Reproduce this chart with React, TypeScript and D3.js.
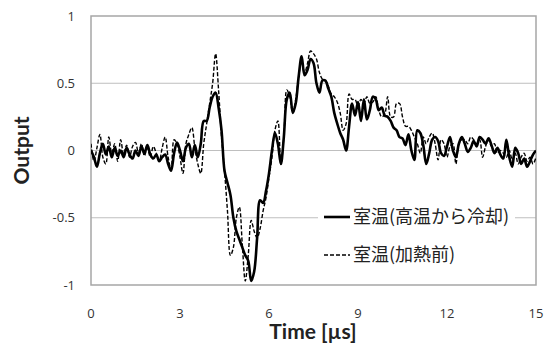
import React, { useEffect, useRef } from "react";
import * as d3 from "d3";

const xTicks = [0, 3, 6, 9, 12, 15];
const yTicks = [-1, -0.5, 0, 0.5, 1];
const yTickLabels = ["-1", "-0.5", "0", "0.5", "1"];
const timeStep = 0.1;

const cooled = [
  0.0, -0.05, -0.12, -0.02, 0.05, -0.03, 0.03, -0.05, 0.02, -0.04,
  0.0, -0.05, 0.02, -0.03, -0.06, 0.0, -0.04, 0.03, -0.02, 0.04,
  -0.03, -0.06, -0.03, -0.08, -0.05, -0.03, -0.1, -0.15, -0.02, 0.06,
  0.0, -0.08, 0.02, 0.05, -0.05, 0.04, -0.05, 0.05, 0.22, 0.22,
  0.32, 0.4, 0.43, 0.32, 0.15, -0.15, -0.24, -0.33, -0.5, -0.6,
  -0.66, -0.72, -0.78, -0.82, -0.97, -0.9, -0.65, -0.37, -0.39, -0.3,
  -0.17, 0.0, 0.13, 0.05, -0.1, 0.1, 0.38, 0.43, 0.28, 0.35,
  0.55, 0.7, 0.56, 0.6, 0.68, 0.65, 0.5, 0.43, 0.52, 0.52,
  0.46, 0.4, 0.28, 0.2, 0.13, 0.08, 0.0, 0.18, 0.35, 0.26,
  0.36, 0.22, 0.38, 0.23, 0.3, 0.4, 0.38, 0.3, 0.32, 0.26,
  0.25, 0.22, 0.17, 0.15, 0.1, 0.09, 0.04, 0.12, 0.0, -0.07,
  0.15, 0.13, 0.04, -0.1, -0.02, 0.08, 0.1, 0.07, -0.02, -0.04,
  0.03, 0.1, 0.0, -0.05, 0.05, 0.1, 0.05, -0.01, 0.02, 0.07,
  0.03, 0.1, 0.08, 0.05, 0.09, 0.04, -0.02, 0.02, -0.03, -0.06,
  0.08, -0.05, -0.12, 0.02, -0.02, -0.1, -0.06, -0.12, -0.08, -0.03,
  0.0,
];

const beforeHeating = [
  0.05, -0.08, 0.02, 0.12, -0.05, -0.1, 0.1, -0.02, 0.05, -0.08,
  0.08, -0.03, 0.04, -0.05, 0.03, 0.06, -0.02, 0.05, -0.04, 0.02,
  -0.05, 0.03, -0.02, -0.08, 0.02, 0.1, -0.05, -0.14, 0.08, 0.05,
  -0.05, -0.17, 0.05, 0.12, 0.17, 0.02, -0.1, -0.17, 0.05, 0.2,
  0.35, 0.5, 0.72, 0.45, 0.1, -0.15, -0.45, -0.78, -0.72, -0.5,
  -0.42, -0.7, -0.97, -0.78, -0.52, -0.6, -0.65, -0.58, -0.45, -0.35,
  -0.2, -0.05, 0.15, 0.22, -0.1, 0.1, 0.45, 0.4, 0.28, 0.38,
  0.55, 0.66, 0.58, 0.65, 0.74, 0.72, 0.68, 0.58, 0.53, 0.52,
  0.48, 0.42, 0.4, 0.36, 0.28, 0.15, 0.2, 0.42, 0.38, 0.38,
  0.33, 0.38, 0.35, 0.4, 0.35, 0.36, 0.4, 0.3, 0.25, 0.27,
  0.4, 0.25, 0.25, 0.35, 0.35, 0.25, 0.18, 0.18, 0.15, 0.1,
  0.05, -0.02, 0.1, 0.05, 0.1, 0.13, 0.05, -0.07, 0.08, 0.05,
  -0.05, 0.03, 0.05, -0.1, 0.05, 0.08, 0.08, 0.05, 0.1, 0.08,
  0.05, 0.08, -0.05, 0.03, 0.08, 0.03, 0.05, -0.02, 0.0, -0.02,
  -0.05, 0.0, -0.07, -0.02, -0.1, -0.05, -0.02, -0.08, -0.05, -0.1,
  -0.05,
];

const seriesNames = ["室温(高温から冷却)", "室温(加熱前)"];

const W = 550;
const H = 345;
const left = 91;
const right = 536;
const top = 16;
const bottom = 285;
const font = "'Open Sans', 'Noto Sans', sans-serif";
const titleFont = "Lato, 'Open Sans', sans-serif";
const cjkFont = "'Noto Sans CJK JP', 'Open Sans', sans-serif";

export default function App() {
  const ref = useRef<SVGSVGElement>(null);
  useEffect(() => {
    const svg = d3.select(ref.current);
    svg.selectAll("*").remove();
    const x = d3.scaleLinear().domain([0, 15]).range([left, right]);
    const y = d3.scaleLinear().domain([-1, 1]).range([bottom, top]);

    svg.append("rect").attr("width", W).attr("height", H).attr("fill", "#fff");

    svg
      .append("g")
      .selectAll("line")
      .data(yTicks.filter((v) => v !== -1 && v !== 1))
      .join("line")
      .attr("x1", left)
      .attr("x2", right)
      .attr("y1", (d) => y(d))
      .attr("y2", (d) => y(d))
      .attr("stroke", "#bfbfbf")
      .attr("stroke-width", 1);

    svg
      .append("rect")
      .attr("x", left)
      .attr("y", top)
      .attr("width", right - left)
      .attr("height", bottom - top)
      .attr("fill", "none")
      .attr("stroke", "#a6a6a6")
      .attr("stroke-width", 1.5);

    svg
      .append("g")
      .selectAll("text")
      .data(yTicks)
      .join("text")
      .attr("x", 75)
      .attr("y", (d) => y(d))
      .attr("dy", "0.35em")
      .attr("text-anchor", "end")
      .attr("font-family", font)
      .attr("font-size", 13)
      .attr("fill", "#333")
      .text((d, i) => yTickLabels[i]);

    svg
      .append("g")
      .selectAll("text")
      .data(xTicks)
      .join("text")
      .attr("x", (d) => x(d))
      .attr("y", 313)
      .attr("dy", "0.35em")
      .attr("text-anchor", "middle")
      .attr("font-family", font)
      .attr("font-size", 13)
      .attr("fill", "#333")
      .text((d) => String(d));

    svg
      .append("text")
      .attr("transform", `translate(29,${(top + bottom) / 2}) rotate(-90)`)
      .attr("text-anchor", "middle")
      .attr("font-family", titleFont)
      .attr("font-weight", "bold")
      .attr("font-size", 21)
      .attr("fill", "#222")
      .text("Output");
    svg
      .append("text")
      .attr("x", 313)
      .attr("y", 339)
      .attr("text-anchor", "middle")
      .attr("font-family", titleFont)
      .attr("font-weight", "bold")
      .attr("font-size", 21)
      .attr("fill", "#222")
      .text("Time [µs]");

    svg
      .append("clipPath")
      .attr("id", "plotclip")
      .append("rect")
      .attr("x", left)
      .attr("y", top - 2)
      .attr("width", right - left)
      .attr("height", bottom - top + 4);

    const line = d3
      .line<number>()
      .x((d, i) => x(i * timeStep))
      .y((d) => y(d))
      .curve(d3.curveCatmullRom.alpha(0.5));

    const g = svg.append("g").attr("clip-path", "url(#plotclip)");
    g.append("path")
      .attr("d", line(beforeHeating) || "")
      .attr("fill", "none")
      .attr("stroke", "#000")
      .attr("stroke-width", 1.4)
      .attr("stroke-dasharray", "4,2");
    g.append("path")
      .attr("d", line(cooled) || "")
      .attr("fill", "none")
      .attr("stroke", "#000")
      .attr("stroke-width", 2.6)
      .attr("stroke-linejoin", "round");

    const lg = svg.append("g");
    lg.append("rect")
      .attr("x", 318)
      .attr("y", 198)
      .attr("width", 197)
      .attr("height", 74)
      .attr("fill", "#fff");
    const rows = [
      { y: 217, w: 2.6, dash: null as string | null },
      { y: 255, w: 1.4, dash: "4,2" },
    ];
    rows.forEach((r, i) => {
      lg.append("line")
        .attr("x1", 324)
        .attr("x2", 350)
        .attr("y1", r.y)
        .attr("y2", r.y)
        .attr("stroke", "#000")
        .attr("stroke-width", r.w)
        .attr("stroke-dasharray", r.dash);
      lg.append("text")
        .attr("x", 353)
        .attr("y", r.y)
        .attr("dy", "0.35em")
        .attr("font-family", cjkFont)
        .attr("font-size", 18)
        .attr("fill", "#222")
        .text(seriesNames[i]);
    });
  }, []);

  return (
    <svg
      ref={ref}
      width={W}
      height={H}
      style={{ position: "absolute", left: 0, top: 0, display: "block" }}
    />
  );
}
